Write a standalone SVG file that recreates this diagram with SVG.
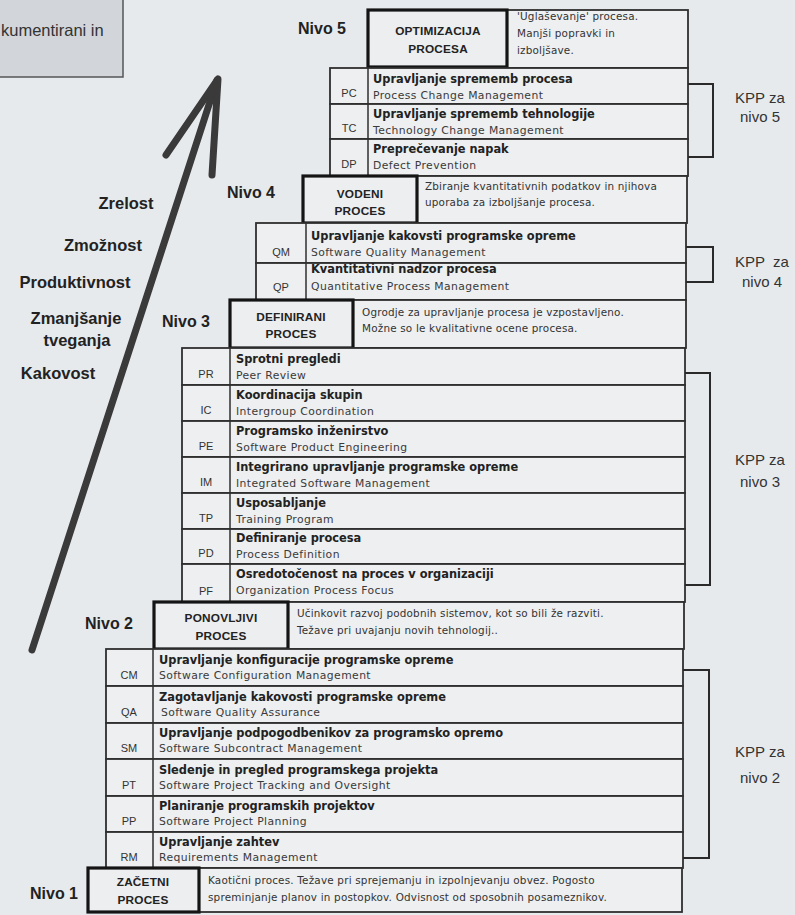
<svg xmlns="http://www.w3.org/2000/svg" width="795" height="915" viewBox="0 0 795 915">
<style>
.bg{fill:#e7eaed}
.cell{fill:#edeff1;stroke:#2f2f2f;stroke-width:1.8}
.thick{fill:#eceef0;stroke:#141414;stroke-width:3.2}
.sep{stroke:#2f2f2f;stroke-width:1.5}
.code{font-family:"Liberation Sans",Arial,sans-serif;font-size:11px;fill:#333;text-anchor:middle}
.b{font-family:"DejaVu Sans",sans-serif;font-weight:bold;font-size:11.4px;fill:#222}
.e{font-family:"DejaVu Sans",sans-serif;font-size:10.8px;letter-spacing:0.4px;fill:#3a3a3a}
.d{font-family:"DejaVu Sans",sans-serif;font-size:10.4px;letter-spacing:0.2px;fill:#333}
.h{font-family:"Liberation Sans",Arial,sans-serif;font-weight:bold;font-size:11.8px;letter-spacing:0.2px;fill:#222;text-anchor:middle}
.nivo{font-family:"Liberation Sans",Arial,sans-serif;font-weight:bold;font-size:16px;fill:#222}
.kpp{font-family:"Liberation Sans",Arial,sans-serif;font-size:15px;fill:#333;text-anchor:middle}
.w{font-family:"Liberation Sans",Arial,sans-serif;font-weight:bold;font-size:16.5px;fill:#222;text-anchor:middle}
.br{fill:none;stroke:#2a2a2a;stroke-width:2}
.arr{fill:none;stroke:#3a3a3a;stroke-width:7;stroke-linecap:round;stroke-linejoin:round}
</style>
<rect class="bg" x="0" y="0" width="795" height="915"/>

<g id="note">
<rect x="-2" y="-2" width="125" height="79" fill="#d2d5d9" stroke="#555" stroke-width="1.5"/>
<text x="1" y="36" font-family="Liberation Sans, Arial, sans-serif" font-size="16.5" fill="#333">kumentirani in</text>
</g>

<g id="arrow">
<line class="arr" x1="32" y1="650" x2="217" y2="80"/>
<polyline class="arr" points="166,155 218,79 212,175"/>
</g>

<g id="labels">
<text class="w" x="126" y="209">Zrelost</text>
<text class="w" x="103" y="251">Zmožnost</text>
<text class="w" x="75" y="288">Produktivnost</text>
<text class="w" x="76" y="324">Zmanjšanje</text>
<text class="w" x="77" y="346">tveganja</text>
<text class="w" x="58" y="379">Kakovost</text>
</g>

<!-- Level 5 -->
<g id="nivo5">
<text class="nivo" x="298" y="34">Nivo 5</text>
<rect class="cell" x="368" y="10" width="320" height="58"/>
<rect class="thick" x="368" y="10" width="139" height="57"/>
<text class="h" x="438" y="35">OPTIMIZACIJA</text>
<text class="h" x="438" y="53">PROCESA</text>
<text class="d" x="517" y="20">'Uglaševanje' procesa.</text>
<text class="d" x="517" y="37">Manjši popravki in</text>
<text class="d" x="517" y="54">izboljšave.</text>
</g>
<g id="PC">
<rect class="cell" x="330" y="68" width="358" height="36"/><line class="sep" x1="368" y1="68" x2="368" y2="104"/>
<text class="code" x="349" y="97">PC</text><text class="b" x="373" y="83">Upravljanje sprememb procesa</text><text class="e" x="373" y="99">Process Change Management</text>
</g>
<g id="TC">
<rect class="cell" x="330" y="104" width="358" height="35"/><line class="sep" x1="368" y1="104" x2="368" y2="139"/>
<text class="code" x="349" y="132">TC</text><text class="b" x="373" y="118">Upravljanje sprememb tehnologije</text><text class="e" x="373" y="134">Technology Change Management</text>
</g>
<g id="DP">
<rect class="cell" x="330" y="139" width="358" height="37"/><line class="sep" x1="368" y1="139" x2="368" y2="176"/>
<text class="code" x="349" y="168">DP</text><text class="b" x="373" y="153">Preprečevanje napak</text><text class="e" x="373" y="169">Defect Prevention</text>
</g>

<!-- Level 4 -->
<g id="nivo4">
<text class="nivo" x="227" y="198">Nivo 4</text>
<rect class="cell" x="303" y="176" width="384" height="47"/>
<rect class="thick" x="303" y="176" width="114" height="47"/>
<text class="h" x="360" y="198">VODENI</text>
<text class="h" x="360" y="215">PROCES</text>
<text class="d" x="425" y="190">Zbiranje kvantitativnih podatkov in njihova</text>
<text class="d" x="425" y="206">uporaba za izboljšanje procesa.</text>
</g>
<g id="QM">
<rect class="cell" x="256" y="223" width="430" height="40"/><line class="sep" x1="306" y1="223" x2="306" y2="263"/>
<text class="code" x="281" y="256">QM</text><text class="b" x="311" y="240">Upravljanje kakovsti programske opreme</text><text class="e" x="311" y="256">Software Quality Management</text>
</g>
<g id="QP">
<rect class="cell" x="256" y="263" width="430" height="37"/><line class="sep" x1="306" y1="263" x2="306" y2="300"/>
<text class="code" x="281" y="291">QP</text><text class="b" x="311" y="273">Kvantitativni nadzor procesa</text><text class="e" x="311" y="290">Quantitative Process Management</text>
</g>

<!-- Level 3 -->
<g id="nivo3">
<text class="nivo" x="162" y="327">Nivo 3</text>
<rect class="cell" x="230" y="300" width="456" height="48"/>
<rect class="thick" x="230" y="300" width="123" height="48"/>
<text class="h" x="291" y="321">DEFINIRANI</text>
<text class="h" x="291" y="338">PROCES</text>
<text class="d" x="362" y="316">Ogrodje za upravljanje procesa je vzpostavljeno.</text>
<text class="d" x="362" y="332">Možne so le kvalitativne ocene procesa.</text>
</g>
<g id="PR">
<rect class="cell" x="182" y="348" width="503" height="37"/><line class="sep" x1="230" y1="348" x2="230" y2="385"/>
<text class="code" x="206" y="378">PR</text><text class="b" x="236" y="363">Sprotni pregledi</text><text class="e" x="236" y="379">Peer Review</text>
</g>
<g id="IC">
<rect class="cell" x="182" y="385" width="503" height="36"/><line class="sep" x1="230" y1="385" x2="230" y2="421"/>
<text class="code" x="206" y="414">IC</text><text class="b" x="236" y="399">Koordinacija skupin</text><text class="e" x="236" y="415">Intergroup Coordination</text>
</g>
<g id="PE">
<rect class="cell" x="182" y="421" width="503" height="36"/><line class="sep" x1="230" y1="421" x2="230" y2="457"/>
<text class="code" x="206" y="450">PE</text><text class="b" x="236" y="435">Programsko inženirstvo</text><text class="e" x="236" y="451">Software Product Engineering</text>
</g>
<g id="IM">
<rect class="cell" x="182" y="457" width="503" height="36"/><line class="sep" x1="230" y1="457" x2="230" y2="493"/>
<text class="code" x="206" y="486">IM</text><text class="b" x="236" y="471">Integrirano upravljanje programske opreme</text><text class="e" x="236" y="487">Integrated Software Management</text>
</g>
<g id="TP">
<rect class="cell" x="182" y="493" width="503" height="36"/><line class="sep" x1="230" y1="493" x2="230" y2="529"/>
<text class="code" x="206" y="522">TP</text><text class="b" x="236" y="507">Usposabljanje</text><text class="e" x="236" y="523">Training Program</text>
</g>
<g id="PD">
<rect class="cell" x="182" y="529" width="503" height="35"/><line class="sep" x1="230" y1="529" x2="230" y2="564"/>
<text class="code" x="206" y="557">PD</text><text class="b" x="236" y="542">Definiranje procesa</text><text class="e" x="236" y="558">Process Definition</text>
</g>
<g id="PF">
<rect class="cell" x="182" y="564" width="503" height="38"/><line class="sep" x1="230" y1="564" x2="230" y2="602"/>
<text class="code" x="206" y="595">PF</text><text class="b" x="236" y="578">Osredotočenost na proces v organizaciji</text><text class="e" x="236" y="594">Organization Process Focus</text>
</g>

<!-- Level 2 -->
<g id="nivo2">
<text class="nivo" x="85" y="629">Nivo 2</text>
<rect class="cell" x="154" y="602" width="530" height="47"/>
<rect class="thick" x="154" y="602" width="134" height="47"/>
<text class="h" x="221" y="622">PONOVLJIVI</text>
<text class="h" x="221" y="640">PROCES</text>
<text class="d" x="297" y="617">Učinkovit razvoj podobnih sistemov, kot so bili že razviti.</text>
<text class="d" x="297" y="634">Težave pri uvajanju novih tehnologij..</text>
</g>
<g id="CM">
<rect class="cell" x="106" y="649" width="577" height="37"/><line class="sep" x1="153" y1="649" x2="153" y2="686"/>
<text class="code" x="129" y="679">CM</text><text class="b" x="159" y="664">Upravljanje konfiguracije programske opreme</text><text class="e" x="159" y="679">Software Configuration Management</text>
</g>
<g id="QA">
<rect class="cell" x="106" y="686" width="577" height="37"/><line class="sep" x1="153" y1="686" x2="153" y2="723"/>
<text class="code" x="129" y="716">QA</text><text class="b" x="159" y="701">Zagotavljanje kakovosti programske opreme</text><text class="e" x="161" y="716">Software Quality Assurance</text>
</g>
<g id="SM">
<rect class="cell" x="106" y="723" width="577" height="36"/><line class="sep" x1="153" y1="723" x2="153" y2="759"/>
<text class="code" x="129" y="752">SM</text><text class="b" x="159" y="737">Upravljanje podpogodbenikov za programsko opremo</text><text class="e" x="159" y="752">Software Subcontract Management</text>
</g>
<g id="PT">
<rect class="cell" x="106" y="759" width="577" height="37"/><line class="sep" x1="153" y1="759" x2="153" y2="796"/>
<text class="code" x="129" y="789">PT</text><text class="b" x="159" y="774">Sledenje in pregled programskega projekta</text><text class="e" x="159" y="789">Software Project Tracking and Oversight</text>
</g>
<g id="PP">
<rect class="cell" x="106" y="796" width="577" height="36"/><line class="sep" x1="153" y1="796" x2="153" y2="832"/>
<text class="code" x="129" y="825">PP</text><text class="b" x="159" y="810">Planiranje programskih projektov</text><text class="e" x="159" y="825">Software Project Planning</text>
</g>
<g id="RM">
<rect class="cell" x="106" y="832" width="577" height="36"/><line class="sep" x1="153" y1="832" x2="153" y2="868"/>
<text class="code" x="129" y="861">RM</text><text class="b" x="159" y="846">Upravljanje zahtev</text><text class="e" x="159" y="861">Requirements Management</text>
</g>

<!-- Level 1 -->
<g id="nivo1">
<text class="nivo" x="30" y="899">Nivo 1</text>
<rect class="cell" x="88" y="868" width="594" height="44"/>
<rect class="thick" x="88" y="868" width="111" height="44"/>
<text class="h" x="143" y="886">ZAČETNI</text>
<text class="h" x="143" y="904">PROCES</text>
<text class="d" x="208" y="884">Kaotični proces. Težave pri sprejemanju in izpolnjevanju obvez. Pogosto</text>
<text class="d" x="208" y="901">spreminjanje planov in postopkov. Odvisnost od sposobnih posameznikov.</text>
</g>

<g id="connectors">
<polyline class="br" points="688,84 713,84 713,157 688,157"/>
<polyline class="br" points="686,247 713,247 713,282 686,282"/>
<polyline class="br" points="685,373 710,373 710,585 685,585"/>
<polyline class="br" points="683,670 709,670 709,858 683,858"/>
</g>

<g id="kpp5"><text class="kpp" x="760" y="103">KPP za</text><text class="kpp" x="760" y="122">nivo 5</text></g>
<g id="kpp4"><text class="kpp" x="762" y="267" xml:space="preserve">KPP  za</text><text class="kpp" x="762" y="287">nivo 4</text></g>
<g id="kpp3"><text class="kpp" x="760" y="465">KPP za</text><text class="kpp" x="760" y="487">nivo 3</text></g>
<g id="kpp2"><text class="kpp" x="760" y="757">KPP za</text><text class="kpp" x="760" y="783">nivo 2</text></g>
</svg>
